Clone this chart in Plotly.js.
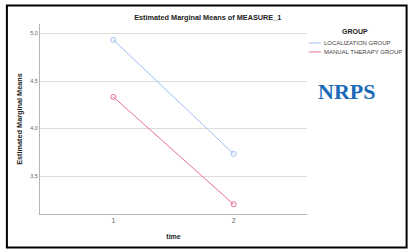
<!DOCTYPE html>
<html>
<head>
<meta charset="utf-8">
<script src="https://cdn.plot.ly/plotly-3.0.1.min.js"></script>
<style>
html,body{margin:0;padding:0;background:#fff;}
#chart{width:409px;height:249px;}
</style>
</head>
<body>
<div id="chart"></div>
<script>
const timePoints = [1, 2];
const timeLabels = ["1", "2"];
const groupNames = ["LOCALIZATION GROUP", "MANUAL THERAPY GROUP"];
const localizationMeans = [4.933, 3.733];
const manualTherapyMeans = [4.332, 3.202];
const yTickVals = [3.5, 4.0, 4.5, 5.0];
const yTickText = ["3,5", "4,0", "4,5", "5,0"];
const groupColors = ["#9dbfee", "#e8708e"];

const seriesValues = [localizationMeans, manualTherapyMeans];

const traces = seriesValues.map((vals, i) => ({
  x: timePoints,
  y: vals,
  name: groupNames[i],
  type: "scatter",
  mode: "lines+markers",
  line: {color: groupColors[i], width: 1},
  marker: {symbol: "circle-open", size: 5, color: groupColors[i], line: {width: 1}},
  showlegend: false
}));

const font = "Liberation Sans, Arial, sans-serif";
const annotations = [
  {xref: "paper", yref: "paper", x: 1.18, y: 0.963, xanchor: "center", yanchor: "middle",
   text: "<b>GROUP</b>", showarrow: false, font: {family: font, size: 7, color: "#222"}},
  {xref: "paper", yref: "paper", x: 1.032, y: 0.645, xanchor: "left", yanchor: "middle",
   text: "<b>NRPS</b>", showarrow: false, font: {family: "Liberation Serif, Times New Roman, serif", size: 22, color: "#1a6ab9"}}
];
const shapes = [
  {type: "rect", xref: "paper", yref: "paper", x0: -0.124, x1: 1.373, y0: -0.176, y1: 1.097,
   line: {color: "#000", width: 2}, fillcolor: "rgba(0,0,0,0)"}
];
groupNames.forEach((n, i) => {
  const yp = 0.9 - i * 0.047;
  annotations.push({xref: "paper", yref: "paper", x: 1.056, y: yp, xanchor: "left", yanchor: "middle",
    text: n, showarrow: false, font: {family: font, size: 6, color: "#444"}});
  shapes.push({type: "line", xref: "paper", yref: "paper", x0: 1.007, x1: 1.052, y0: yp, y1: yp,
    line: {color: groupColors[i], width: 1}});
});

const layout = {
  width: 409, height: 249,
  margin: {l: 40, r: 102, t: 24, b: 35},
  paper_bgcolor: "#fff", plot_bgcolor: "#fff",
  font: {family: font},
  title: {text: "<b>Estimated Marginal Means of MEASURE_1</b>", x: 0.508, xanchor: "center", y: 0.93, yanchor: "middle",
          font: {family: font, size: 7.3, color: "#222"}},
  xaxis: {
    range: [0.39, 2.61], tickvals: timePoints, ticktext: timeLabels,
    showgrid: false, zeroline: false, showline: true, linecolor: "#b5b5b5", linewidth: 1,
    ticks: "", tickfont: {size: 7, color: "#666"},
    title: {text: "<b>time</b>", font: {size: 7, color: "#222"}, standoff: 10}
  },
  yaxis: {
    range: [3.1, 5.1], tickvals: yTickVals, ticktext: yTickText,
    showgrid: true, gridcolor: "#dcdcdc", gridwidth: 1, zeroline: false,
    showline: true, linecolor: "#b5b5b5", linewidth: 1,
    ticks: "", tickfont: {size: 5.5, color: "#666"},
    title: {text: "<b>Estimated Marginal Means</b>", font: {size: 7.3, color: "#222"}, standoff: 6}
  },
  annotations: annotations,
  shapes: shapes
};

Plotly.newPlot("chart", traces, layout, {staticPlot: true, displayModeBar: false});
</script>
</body>
</html>
